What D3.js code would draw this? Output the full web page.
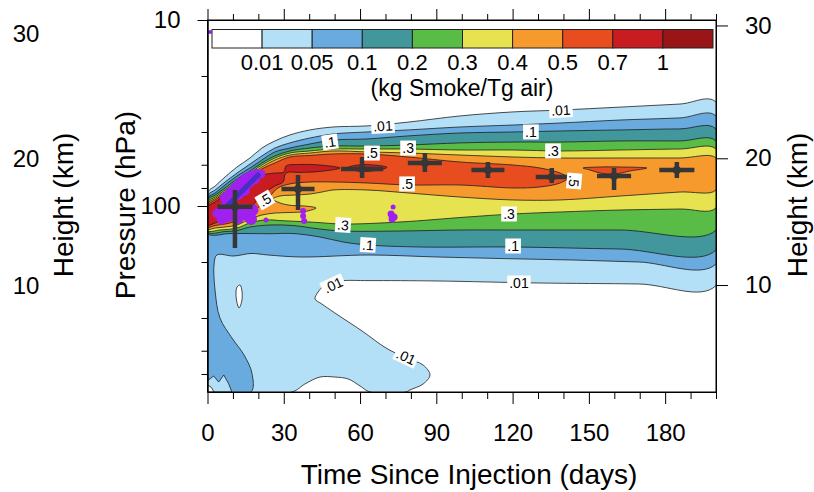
<!DOCTYPE html>
<html>
<head>
<meta charset="utf-8">
<script src="https://cdn.jsdelivr.net/npm/d3@7/dist/d3.min.js"></script>
<style>
html,body{margin:0;padding:0;background:#fff;}
svg{display:block;}
</style>
</head>
<body>
<svg id="chart" width="814" height="492"></svg>
<script>
// ---------- contour levels (kg Smoke / Tg air) ----------
const levels = [0.01, 0.05, 0.1, 0.2, 0.3, 0.4, 0.5, 0.7, 1];
const levelLabels = ["0.01","0.05","0.1","0.2","0.3","0.4","0.5","0.7","1"];
const palette = ["#ffffff","#b3e0f6","#69abdf","#42979c","#59bc47","#e7e350","#f69a2e","#e84d1f","#c91c21","#9a1515"];

// ---------- axis ticks ----------
const dayMajor = [0,30,60,90,120,150,180];
const dayMinor = [10,20,40,50,70,80,100,110,130,140,160,170,190,200];
const presMajor = [10,100];
const presMinor = [20,40,60,80,200,400,600,800];
const heightTicks = [10,20,30];
const heightTickPres = [266,55.4,10.7];

// ---------- contour outlines (day, hPa) ----------
const topDays = [0,3,6.9,11.6,16.7,21.4,26.5,32.4,40.3,49.4,62.7,78.9,99.3,120.2,138.7,162.2,185.8,200];
const top001 = [85.1,78.1,69.8,61.7,55.2,48.8,44.7,41.5,39.0,37.6,37.1,35.4,32.8,31.2,30.5,29.4,28.3,27.6];
const top005 = [88.4,82.0,74.3,66.5,59.5,53.8,48.8,45.8,43.1,41.0,40.0,39.0,37.6,36.7,35.8,34.5,33.6,32.8];
const top01  = [90.6,85.1,77.1,69.0,62.5,56.6,51.2,48.8,46.4,44.2,43.6,42.0,40.5,40.0,39.5,39.0,38.5,38.5];
const top02  = [92.8,87.3,80.0,71.6,64.8,58.7,53.8,50.6,48.8,47.6,47.6,47.0,45.8,45.3,45.3,44.7,44.7,44.7];
const top03  = [95.2,89.5,82.0,73.4,66.5,60.2,55.2,51.9,50.6,49.4,49.4,49.4,50.0,50.0,50.6,50.0,49.4,49.4];
const top04  = [96.9,91.1,83.6,75.2,68.1,61.7,56.6,53.2,51.9,50.6,51.2,51.9,53.2,54.5,55.2,55.2,55.2,55.2];

const bot001 = [[0,1000],[33.2,1000],[38.3,906],[44.2,831],[50.1,831],[55.3,851],[60.0,928],[63.9,1000],[78.1,1000],[79.6,975],[84.8,906],[87.5,810],[84.8,716],[78.1,656],[70.2,580],[60.8,470],[50.1,376],[45.0,336.5],[42.3,316],[43.5,290],[46.2,266],[52.1,253],[63.5,251.8],[90.3,253.0],[130.0,259.4],[169.7,262.6],[200,267.9]];
const bot005 = [[0,1000],[17.1,1000],[17.5,795],[14.4,633],[9.6,512],[4.9,400],[3.0,286],[2.6,205],[3.7,183.4],[10.4,185.7],[17.1,180.0],[23.8,183.4],[36.8,188.0],[63.5,183.4],[90.3,188.0],[116.6,191.8],[143.4,195.1],[169.7,200.0],[200,205.0]];
const bot01 = [[0,140.6],[8.8,140.6],[16.7,140.6],[24.6,141.0],[33.6,140.6],[44.2,146.7],[53.3,156.1],[63.1,162.0],[83.6,166.1],[120.2,166.1],[162.2,170.3],[200,172.4]];
const bot02 = [[0,138.0],[6.9,137.2],[11.6,135.5],[16.7,129.7],[24.6,126.5],[33.6,127.3],[44.2,133.0],[53.3,136.3],[75.7,136.3],[99.3,134.6],[120.2,134.6],[162.2,134.6],[200,134.6]];
const bot03 = [[0,135.5],[4.9,134.6],[11.6,131.3],[16.7,123.4],[22.6,118.9],[29.7,120.0],[36.4,121.2],[43.1,122.6],[53.3,125.0],[75.7,121.9],[102.1,114.6],[120.2,110.4],[138.7,107.7],[162.2,105.1],[185.8,103.8],[200,102.5]];
const bot04 = [[0,133.0],[3,131.3],[6.9,129.7],[11.6,126.5],[16.7,117.5],[21.4,111.8],[26.5,109.1],[32.4,108.4],[38.3,107.1],[42.7,102.5],[38.3,100.0],[33.2,99.4],[28.5,96.3],[25.8,91.7],[28.5,88.4],[34.4,87.3],[40.3,86.2],[45.0,84.1],[49.4,82.0],[62.7,82.0],[78.9,85.1],[99.3,89.5],[120.2,92.8],[138.7,92.8],[162.2,88.4],[185.8,84.1],[200,82.0]];
const top05 = [[0,98.8],[3,92.8],[6.9,85.1],[11.6,76.6],[16.7,69.8],[21.4,63.2],[26.5,58.7],[32.4,54.5],[40.3,53.5],[49.4,52.5],[62.7,52.5],[78.9,54.5],[99.3,58.0],[120.2,60.2],[130.8,62.5],[138.7,66.5],[141.7,70.7]];
const bot05 = [[0,129.7],[3,127.3],[6.9,125.0],[11.6,120.4],[16.7,111.8],[21.4,97.5],[24.6,88.4],[27.7,80.0],[32.4,76.1],[40.3,74.3],[49.4,74.3],[62.7,75.2],[78.9,77.1],[99.3,77.1],[120.2,80.0],[130.8,79.0],[138.7,75.2],[141.7,70.7]];
const lens05 = [[147.7,62.5],[154.4,61.7],[162.2,61.7],[172.8,62.5],[166.2,64.8],[160.3,67.3],[154.4,66.5],[150.4,64.0]];
const top07 = [[0,101.2],[3,95.2],[6.9,87.3],[11.6,78.1],[16.7,71.6],[21.4,68.1],[26.5,66.5],[30.1,65.6],[30.9,60.9],[36.4,59.8],[44.2,60.2],[52.1,62.5]];
const bot07 = [[0,126.5],[3,123.4],[6.9,117.5],[11.6,111.8],[16.7,102.5],[21.4,87.3],[26.5,78.1],[29.7,74.3],[30.9,66.5],[36.4,66.0],[44.2,65.2],[52.1,62.5]];
const lens07 = [[54.9,62.5],[58,60.5],[64,60],[70.6,62],[65,64.8],[59,64.8]];
// low-concentration pockets (drawn on top)
const pocketCorner = [[0,862],[0.4,862],[2.4,820],[4.4,884],[6.4,810],[8.3,902],[9.6,1000],[0,1000]];
const pocketCornerWhite = [[0,917],[1.4,940],[2.6,1000],[0,1000]];
const pocketOval = [[11.6,273],[12.8,266],[13.6,290],[13.4,328],[12.4,353],[11.4,320],[11.2,290]];

// ---------- contour line labels ----------
const labText  = [".01",".1",".5",".3",".5",".5",".3",".1",".01",".01",".01",".1",".3",".5",".3",".1",".01"];
const labDay   = [69.0,48.2,64.7,78.9,78.5,22.6,53.3,63.1,49.4,78.1,139.0,127.2,135.9,144.2,118.6,120.2,122.5];
const labPres  = [37.1,45.3,51.9,48.8,76.1,92.8,126.5,162.0,265.9,648,30.5,40.0,50.6,73.4,110.4,164.1,259.4];
const labAngle = [-3,-8,0,0,0,-30,4,3,-25,25,-3,0,0,95,0,0,0];

// ---------- observations: crosses with error bars ----------
const obsDay    = [10.8,35.6,60.8,85.5,110.3,135.4,159.9,184.6];
const obsPres   = [101,81,63.2,58.7,64.0,69.8,69.0,64.0];
const obsDayErr = [6.9,6.5,8.3,6.7,6.5,6.3,6.7,6.9];
const obsPresTop= [82,68.1,54.5,51.9,58.0,62.4,62.4,58.0];
const obsPresBot= [168,105,70.7,65.6,70.7,75.2,82.0,70.7];

// ---------- observations: purple points ----------
const purpleDay  = [7.3,9.2,11.2,13.2,15.1,17.1,19.1,21.0,12.0,14.4,10.0,16.5,18.6,4.9,6.9,8.1,10.0,12.0,13.6,15.5,17.1,17.9,5.7,3.5,23.0,37.6,37.6,38.0,72.2,72.6,73.4,73.0,1.0];
const purplePres = [90.6,85.1,80.0,75.2,71.6,69.0,67.3,67.3,86.2,82.0,90.6,75.0,72.0,107.7,102.5,113.2,107.7,116.0,105.1,111.8,117.5,105.1,117.5,110.0,118.9,106.4,113.2,120.4,110.4,117.5,114.6,101.2,11.6];
const purpleSize = [6,6,6,6,6,5.5,5,4.5,6,6,6,5,5,5.5,6,6,6,6,6,6,6,5.5,5.5,4,2.5,3,3,3,3.5,3.5,3.5,2.5,2];
const diagDay  = [8.1,19.9];
const diagPres = [98.8,68.1];

// ================= drawing =================
const FONT = '"Liberation Sans", Arial, Helvetica, sans-serif';
const L = 207.5, R = 716, TOP = 20, BOT = 392;
const x = d3.scaleLinear().domain([0,200]).range([L,R]);
const y = d3.scaleLog().domain([1000,10]).range([BOT,TOP]);
const svg = d3.select('#chart');

svg.append('defs').append('clipPath').attr('id','clip')
  .append('rect').attr('x',L).attr('y',TOP).attr('width',R-L).attr('height',BOT-TOP);
const plot = svg.append('g').attr('clip-path','url(#clip)');

function zip(a,b){ return a.map((d,i)=>[d,b[i]]); }
function dedupe(pts){ return pts.filter((p,i)=> i===0 || p[0]!==pts[i-1][0] || p[1]!==pts[i-1][1]); }
function band(top, bot){
  const t = top.slice(), b = bot.slice().reverse();
  let pts = t.concat(b);
  if (pts.length && pts[0][0]===pts[pts.length-1][0] && pts[0][1]===pts[pts.length-1][1]) pts.pop();
  return dedupe(pts);
}
const smooth = d3.line().x(d=>x(d[0])).y(d=>y(d[1])).curve(d3.curveCatmullRomClosed.alpha(0.5));
const straight = d3.line().x(d=>x(d[0])).y(d=>y(d[1])).curve(d3.curveLinearClosed);

const regions = [
  {k:1, pts: band(zip(topDays,top001), bot001), c: smooth},
  {k:2, pts: band(zip(topDays,top005), bot005), c: smooth},
  {k:3, pts: band(zip(topDays,top01), bot01), c: smooth},
  {k:4, pts: band(zip(topDays,top02), bot02), c: smooth},
  {k:5, pts: band(zip(topDays,top03), bot03), c: smooth},
  {k:6, pts: band(zip(topDays,top04), bot04), c: smooth},
  {k:7, pts: band(top05, bot05), c: smooth},
  {k:7, pts: lens05, c: smooth},
  {k:8, pts: band(top07, bot07), c: smooth},
  {k:8, pts: lens07, c: smooth},
  {k:1, pts: pocketCorner, c: straight},
  {k:0, pts: pocketCornerWhite, c: straight},
  {k:0, pts: pocketOval, c: smooth}
];
plot.selectAll('path.lev').data(regions).join('path')
  .attr('class','lev')
  .attr('d', d=>d.c(d.pts))
  .attr('fill', d=>palette[d.k])
  .attr('stroke','#1e1e1e')
  .attr('stroke-width',0.8)
  .attr('stroke-linejoin','round');

// purple observation points
plot.selectAll('circle.obs').data(purpleDay.map((d,i)=>({d, p:purplePres[i], r:purpleSize[i]})))
  .join('circle').attr('class','obs')
  .attr('cx',d=>x(d.d)).attr('cy',d=>y(d.p)).attr('r',d=>d.r)
  .attr('fill','#a020f0');
plot.append('line')
  .attr('x1',x(diagDay[0])).attr('y1',y(diagPres[0]))
  .attr('x2',x(diagDay[1])).attr('y2',y(diagPres[1]))
  .attr('stroke','#4430c8').attr('stroke-width',5).attr('stroke-linecap','round');

// crosses
const cross = plot.selectAll('g.cross').data(obsDay.map((d,i)=>i)).join('g').attr('class','cross');
cross.append('line')
  .attr('x1',i=>x(obsDay[i]-obsDayErr[i])).attr('x2',i=>x(obsDay[i]+obsDayErr[i]))
  .attr('y1',i=>y(obsPres[i])).attr('y2',i=>y(obsPres[i]));
cross.append('line')
  .attr('x1',i=>x(obsDay[i])).attr('x2',i=>x(obsDay[i]))
  .attr('y1',i=>y(obsPresTop[i])).attr('y2',i=>y(obsPresBot[i]));
cross.selectAll('line').attr('stroke','#363636').attr('stroke-width',4.5);
cross.append('circle').attr('cx',i=>x(obsDay[i])).attr('cy',i=>y(obsPres[i])).attr('r',4).attr('fill','#363636');

// contour labels
const lab = plot.selectAll('g.lab').data(labText.map((t,i)=>i)).join('g').attr('class','lab')
  .attr('transform', i=>`translate(${x(labDay[i])},${y(labPres[i])}) rotate(${labAngle[i]})`);
lab.append('rect').attr('fill','#fff');
lab.append('text').text(i=>labText[i])
  .attr('text-anchor','middle').attr('dy','0.36em')
  .attr('font-family',FONT).attr('font-size',14).attr('fill','#000');
lab.each(function(){
  const g = d3.select(this);
  const w = g.select('text').node().getComputedTextLength();
  g.select('rect').attr('x',-w/2-2).attr('y',-7.5).attr('width',w+4).attr('height',15);
});

// frame
svg.append('rect').attr('x',L).attr('y',TOP).attr('width',R-L).attr('height',BOT-TOP)
  .attr('fill','none').attr('stroke','#000').attr('stroke-width',1);

function styleAxis(g){
  g.select('.domain').attr('stroke','#000');
  g.selectAll('.tick line').attr('stroke','#000');
  g.selectAll('text').attr('font-family',FONT).attr('font-size',24).attr('fill','#000');
}
// bottom
svg.append('g').attr('transform',`translate(0,${BOT})`)
  .call(d3.axisBottom(x).tickValues(dayMajor).tickSize(12).tickSizeOuter(0).tickPadding(20).tickFormat(d3.format('d')))
  .call(styleAxis);
svg.append('g').attr('transform',`translate(0,${BOT})`)
  .call(d3.axisBottom(x).tickValues(dayMinor).tickSize(7).tickSizeOuter(0).tickFormat(''))
  .call(styleAxis);
// top
svg.append('g').attr('transform',`translate(0,${TOP})`)
  .call(d3.axisTop(x).tickValues(dayMajor).tickSize(11).tickSizeOuter(0).tickFormat(''))
  .call(styleAxis);
svg.append('g').attr('transform',`translate(0,${TOP})`)
  .call(d3.axisTop(x).tickValues(dayMinor).tickSize(6).tickSizeOuter(0).tickFormat(''))
  .call(styleAxis);
// left (pressure)
svg.append('g').attr('transform',`translate(${L},0)`)
  .call(d3.axisLeft(y).tickValues(presMajor).tickSize(10).tickSizeOuter(0).tickPadding(17).tickFormat(d3.format('d')))
  .call(styleAxis);
svg.append('g').attr('transform',`translate(${L},0)`)
  .call(d3.axisLeft(y).tickValues(presMinor).tickSize(6).tickSizeOuter(0).tickFormat(''))
  .call(styleAxis);
// right (height)
svg.append('g').attr('transform',`translate(${R},0)`)
  .call(d3.axisRight(y).tickValues(heightTickPres).tickSize(12).tickSizeOuter(0).tickPadding(17).tickFormat((d,i)=>heightTicks[i]))
  .call(styleAxis);

// outer linear height labels on the far left
const hOuter = d3.scaleLinear().domain([heightTicks[0],heightTicks[1]]).range([y(heightTickPres[0]),y(heightTickPres[1])]);
svg.selectAll('text.hout').data(heightTicks).join('text').attr('class','hout')
  .attr('x',26).attr('y',d=>hOuter(d)+ (d===30?1.5:0)).attr('dy','0.36em')
  .attr('text-anchor','middle').attr('font-family',FONT).attr('font-size',24).text(d=>d);

// titles
svg.append('text').attr('x',469).attr('y',484).attr('text-anchor','middle')
  .attr('font-family',FONT).attr('font-size',28).text('Time Since Injection (days)');
svg.append('text').attr('transform','translate(125,205) rotate(-90)').attr('dy','0.35em').attr('text-anchor','middle')
  .attr('font-family',FONT).attr('font-size',28).text('Pressure (hPa)');
svg.append('text').attr('transform','translate(63,205) rotate(-90)').attr('dy','0.35em').attr('text-anchor','middle')
  .attr('font-family',FONT).attr('font-size',28).text('Height (km)');
svg.append('text').attr('transform','translate(797,205) rotate(-90)').attr('dy','0.35em').attr('text-anchor','middle')
  .attr('font-family',FONT).attr('font-size',28).text('Height (km)');

// colour bar
const cb = d3.scaleLinear().domain([0,palette.length]).range([212,713]);
svg.selectAll('rect.cb').data(palette).join('rect').attr('class','cb')
  .attr('x',(d,i)=>cb(i)).attr('y',29.5).attr('width',(d,i)=>cb(i+1)-cb(i)).attr('height',18.5)
  .attr('fill',d=>d).attr('stroke','#222').attr('stroke-width',1);
svg.selectAll('text.cbl').data(levelLabels).join('text').attr('class','cbl')
  .attr('x',(d,i)=>cb(i+1)).attr('y',69.5).attr('text-anchor','middle')
  .attr('font-family',FONT).attr('font-size',22).text(d=>d);
svg.append('text').attr('x',462).attr('y',95.5).attr('text-anchor','middle')
  .attr('font-family',FONT).attr('font-size',23).text('(kg Smoke/Tg air)');
</script>
</body>
</html>
